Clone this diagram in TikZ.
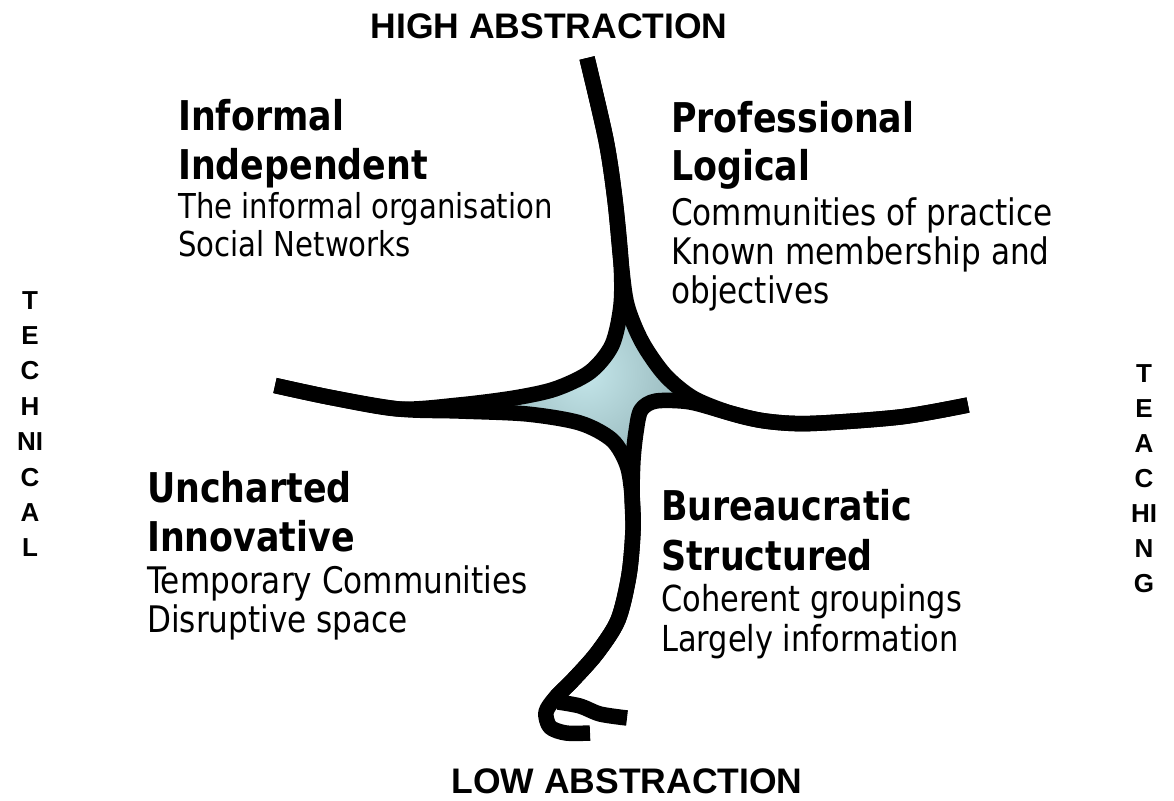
\documentclass[tikz,border=0pt]{standalone}
\usepackage{fontspec}
\newfontfamily\bodyfont[FakeStretch=0.85]{DejaVu Sans}
\newfontfamily\headfont{Liberation Sans}
\definecolor{starlight}{RGB}{196,230,234}
\definecolor{stardark}{RGB}{96,126,130}
\begin{document}
\begin{tikzpicture}[x=1pt,y=-1pt,
  arm/.style={line width=15.5pt, line cap=butt, line join=round, black},
  title/.style={anchor=base west, inner sep=0pt, font=\bodyfont\bfseries\fontsize{41}{49}\selectfont},
  body/.style={anchor=base west, inner sep=0pt, font=\bodyfont\fontsize{34.3}{38}\selectfont},
  bodybig/.style={anchor=base west, inner sep=0pt, font=\bodyfont\fontsize{36.6}{40}\selectfont},
  bodymid/.style={anchor=base west, inner sep=0pt, font=\bodyfont\fontsize{35.8}{40}\selectfont},
  axislabel/.style={anchor=base, inner sep=0pt, font=\headfont\bfseries\fontsize{35.5}{40}\selectfont},
  side/.style={anchor=base, inner sep=0pt, font=\headfont\bfseries\fontsize{26}{30}\selectfont}]
\useasboundingbox (0,0) rectangle (1174,800);

% star fill (radial shading clipped to the star region)
\begin{scope}
  \clip (621,285) -- (627,305) -- (642,342) -- (665,375) -- (693,398) -- (715,408)
  -- (690,402) -- (656,401) -- (641,410) -- (636,432) -- (633,460) -- (629,470)
  -- (627,465) -- (612,440) -- (580,423) -- (527,414) -- (470,410)
  -- (459,405) -- (514,398) -- (555,389) -- (590,372) -- (612,345) -- (621,305) -- cycle;
  \shade[inner color=starlight, outer color=stardark] (585,372) circle (230);
\end{scope}

% strokes
\draw[arm] plot[smooth, tension=0.5] coordinates {(587,58) (606,140) (615,200) (621,262) (621,305) (612,345) (590,372) (555,389) (514,398) (459,405) (399,409) (331,397.5) (275,385.5)};
\draw[arm] plot[smooth, tension=0.5] coordinates {(587,58) (606,140) (615,200) (621,262) (627,305) (642,342) (665,375) (693,398) (730,413) (765,421) (810,423.5) (900,417) (968,405)};
\draw[arm] plot[smooth, tension=0.5] coordinates {(275,385.5) (331,397.5) (399,409) (459,411) (527,414) (580,423) (612,440) (627,465) (632,495) (633,530) (629,575) (618,620) (597,653) (573,680) (556,697) (546,712) (550,727) (566,733) (590,733)};
\draw[arm] plot[smooth, tension=0.5] coordinates {(968,405) (900,417) (810,423.5) (765,421) (730,413) (690,402) (656,401) (641,410) (636,432) (633,460) (632,495) (633,530) (629,575) (618,620) (597,653) (573,680) (556,697)};
\draw[arm] plot[smooth, tension=0.5] coordinates {(558,702) (580,706) (600,714) (627,718)};

% axis labels
\node[axislabel] (hi) at (549,38) {HIGH ABSTRACTION};
\node[axislabel] (lo) at (627,793) {LOW ABSTRACTION};

% side labels
\foreach \t [count=\i from 0] in {T,E,C,H,NI,C,A,L}
  \node[side] (tech\i) at (30,309+35.4*\i) {\t};
\foreach \t [count=\i from 0] in {T,E,A,C,HI,N,G}
  \node[side] (teach\i) at (1144,382+35*\i) {\t};

% quadrant texts
\node[title] (q1a) at (178,130) {Informal};
\node[title] (q1b) at (178,179) {Independent};
\node[body]  (q1c) at (178,218) {The informal organisation};
\node[body]  (q1d) at (178,256) {Social Networks};

\node[title]   (q2a) at (671,132) {Professional};
\node[title]   (q2b) at (671,180) {Logical};
\node[bodybig] (q2c) at (671,225) {Communities of practice};
\node[bodybig] (q2d) at (671,264) {Known membership and};
\node[bodybig] (q2e) at (671,303) {objectives};

\node[title]   (q3a) at (147,502) {Uncharted};
\node[title]   (q3b) at (147,551) {Innovative};
\node[bodybig] (q3c) at (147,593) {Temporary Communities};
\node[bodybig] (q3d) at (147,632) {Disruptive space};

\node[title]   (q4a) at (661,520) {Bureaucratic};
\node[title]   (q4b) at (661,570) {Structured};
\node[bodymid] (q4c) at (661,611) {Coherent groupings};
\node[bodymid] (q4d) at (661,651) {Largely information};
\end{tikzpicture}
\end{document}
